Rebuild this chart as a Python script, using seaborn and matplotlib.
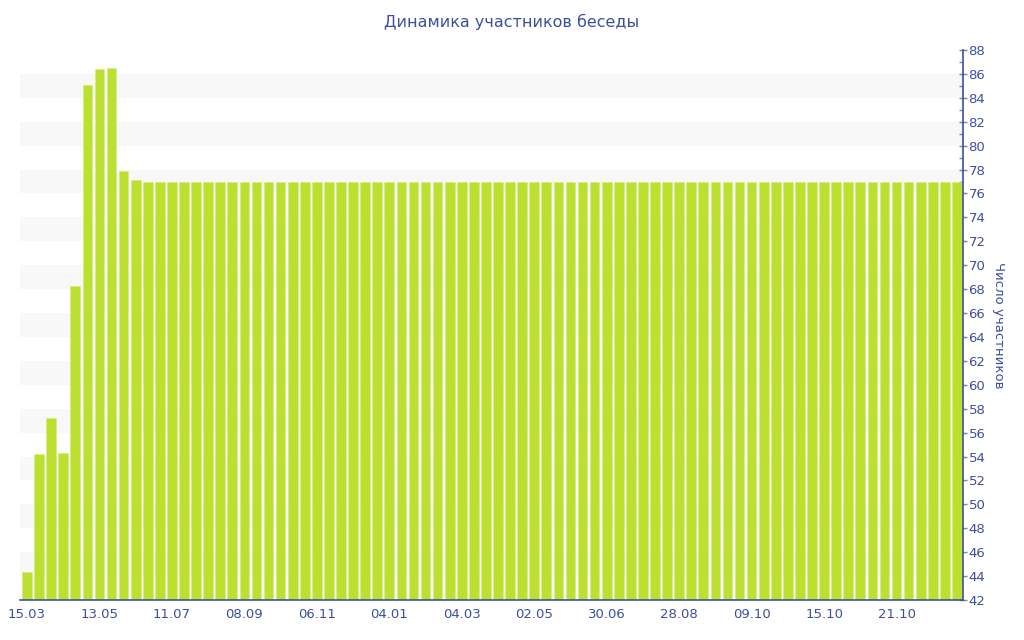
import matplotlib
matplotlib.use("Agg")
import matplotlib.pyplot as plt
import seaborn as sns
import pandas as pd
import numpy as np
from matplotlib.ticker import MultipleLocator

sns.set_theme(style="white")
plt.rcParams['font.family'] = ['DejaVu Sans']

title = "Динамика участников беседы"
ylabel = "Число участников"

head_values = [44.3, 54.2, 57.2, 54.3, 68.3, 85.1, 86.4, 86.5, 77.9, 77.1]
tail_values = [77.0] * 68
values = head_values + tail_values

tick_labels = ["15.03", "13.05", "11.07", "08.09", "06.11", "04.01", "04.03",
               "02.05", "30.06", "28.08", "09.10", "15.10", "21.10"]
tick_step = 6

BAR = "#bce030"
TXT = "#3d4f9c"

df = pd.DataFrame({"idx": np.arange(len(values)), "value": values})

fig = plt.figure(figsize=(10.24, 6.4), dpi=100)
ax = fig.add_axes([0.0195, 0.0625, 0.9209, 0.8594])

# alternating bands
for lo in range(44, 88, 4):
    ax.axhspan(lo, lo + 2, color="#f8f8f8", zorder=0, lw=0)

sns.barplot(data=df, x="idx", y="value", color=BAR, saturation=1, width=0.8,
            edgecolor="#d3ec7c", linewidth=0.4, ax=ax, zorder=2)

ax.set_xlim(-0.58, len(values) - 0.5)
ax.set_ylim(42, 88)

ax.set_xticks(np.arange(0, len(tick_labels) * tick_step, tick_step))
ax.set_xticklabels(tick_labels, color=TXT, fontsize=9.5)
ax.set_xlabel("")

ax.yaxis.tick_right()
ax.yaxis.set_label_position("right")
ax.yaxis.set_major_locator(MultipleLocator(2))
ax.yaxis.set_minor_locator(MultipleLocator(1))
ax.tick_params(axis="y", which="major", direction="inout", length=6, width=1,
               color="#7a84a8", labelcolor=TXT, labelsize=9.5, pad=1)
ax.tick_params(axis="y", which="minor", direction="in", length=3, width=1,
               color="#7a84a8", right=True)
ax.tick_params(axis="x", which="major", direction="out", length=4, width=1,
               color="#7a84a8", pad=2)
ax.set_ylabel(ylabel, rotation=270, color=TXT, fontsize=9.5, labelpad=14)

for s in ["top", "left"]:
    ax.spines[s].set_visible(False)
for s in ["right", "bottom"]:
    ax.spines[s].set_color("#3d4f9c")
    ax.spines[s].set_linewidth(1.2)

fig.text(0.5, 0.965, title, ha="center", va="center", color=TXT, fontsize=11.5)

fig.savefig("out.png", dpi=100)
